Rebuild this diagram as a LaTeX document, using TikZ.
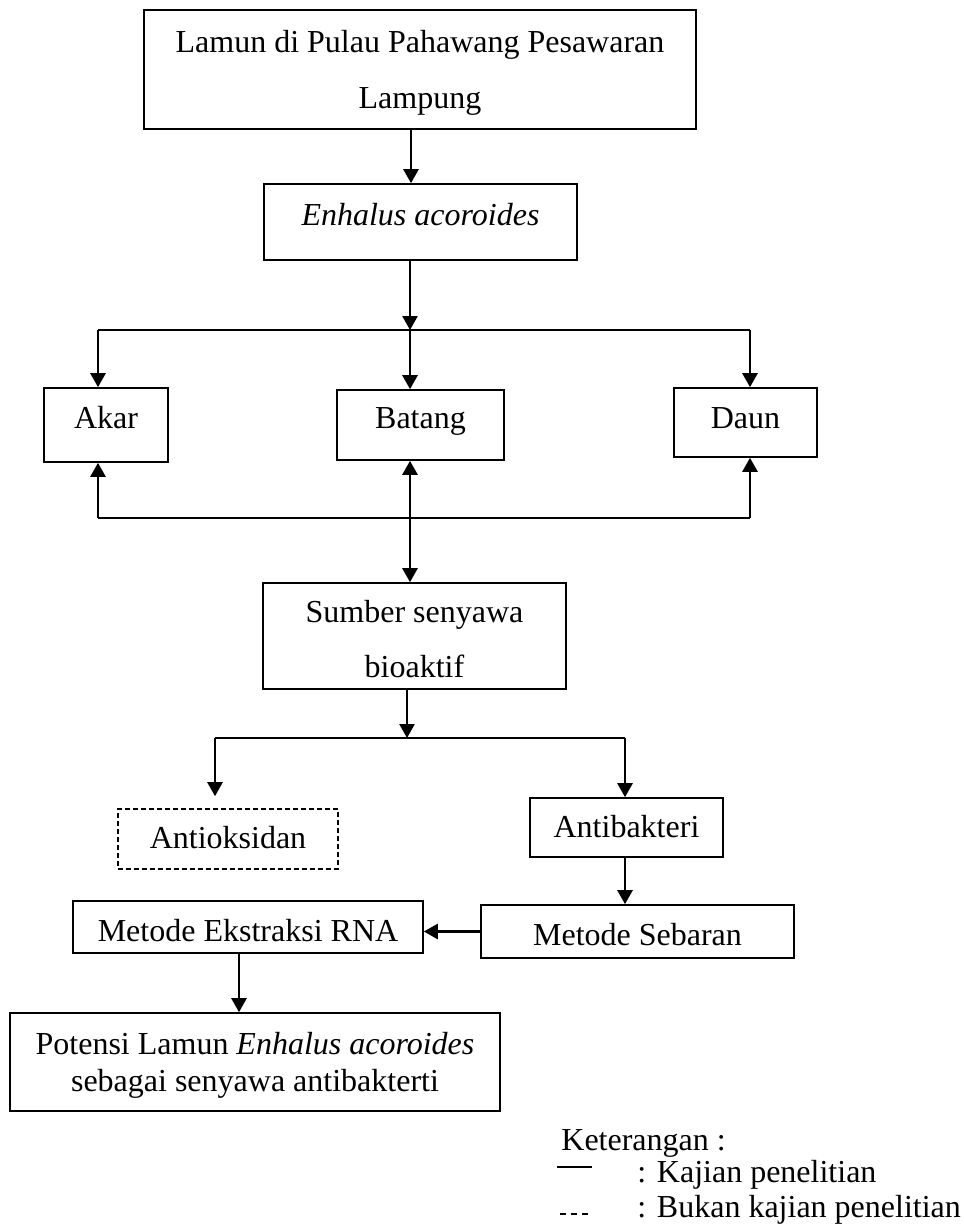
\documentclass[tikz,border=0pt]{standalone}
\usepackage{fontspec}
\setmainfont{Liberation Serif}
\usetikzlibrary{arrows.meta,calc}
\begin{document}
\begin{tikzpicture}[x=0.5pt,y=-0.5pt,
  every node/.style={font=\fontsize{16}{18.5}\selectfont},
  bx/.style={draw,line width=0.8pt,inner sep=0pt},
  bxd/.style={bx,dash pattern=on 2.5pt off 1.5pt},
  arr/.style={line width=1.3pt,-{Triangle[length=7pt,width=7.5pt]}},
  ln/.style={line width=1.3pt},
  lg/.style={anchor=base west,inner sep=0pt},
]
\useasboundingbox (0,0) rectangle (964,1227);

% boxes
\node[bx,align=center,minimum width=276pt,minimum height=59.5pt] (top) at (420,69.5)
  {\rule{0pt}{14pt}Lamun di Pulau Pahawang Pesawaran\\[9.5pt]Lampung};
\node[bx,minimum width=156.5pt,minimum height=38pt,text height=11pt,text depth=8pt] (enh) at (420.5,222)
  {\textit{Enhalus acoroides}};
\node[bx,minimum width=62pt,minimum height=37pt,text height=11pt,text depth=8pt] (akar) at (106,425) {Akar};
\node[bx,minimum width=83.5pt,minimum height=35pt,text height=11pt,text depth=8pt] (batang) at (420.5,425) {Batang};
\node[bx,minimum width=71.5pt,minimum height=34.5pt,text height=11pt,text depth=5.5pt] (daun) at (745.5,422.5) {Daun};
\node[bx,align=center,minimum width=151.5pt,minimum height=53pt] (sum) at (414.5,636)
  {\rule{0pt}{14.5pt}Sumber senyawa\\[9pt]bioaktif};
\node[bxd,minimum width=110pt,minimum height=30pt,text height=11pt,text depth=2pt] (antiok) at (228,839) {Antioksidan};
\node[bx,minimum width=96.5pt,minimum height=29.5pt,text height=11pt,text depth=1.5pt] (antib) at (626.5,827.5) {Antibakteri};
\node[bx,minimum width=156.5pt,minimum height=26.5pt,text height=14pt,text depth=0.5pt] (seb) at (637.5,931.5) {Metode Sebaran};
\node[bx,minimum width=175pt,minimum height=26pt,text height=14.5pt,text depth=0.5pt] (ekstr) at (248,927) {Metode Ekstraksi RNA};
\node[bx,align=center,minimum width=245pt,minimum height=49pt] (pot) at (255,1062)
  {\rule{0pt}{14pt}Potensi Lamun \textit{Enhalus acoroides}\\sebagai senyawa antibakterti};

% junction points
\coordinate (t1) at ([xshift=-4.5pt]top.south);
\coordinate (e1) at ([xshift=-5.25pt]enh.south);
\coordinate (brL) at (98,330);
\coordinate (brM) at (410,330);
\coordinate (brR) at (750,330);
\coordinate (bbL) at (98,518);
\coordinate (bbM) at (410,518);
\coordinate (bbR) at (750,518);
\coordinate (s1) at ([xshift=-3.75pt]sum.south);
\coordinate (sp) at (407,738);
\coordinate (spL) at (215,738);
\coordinate (spR) at (625,738);
\coordinate (k1) at ([xshift=-4.5pt]ekstr.south);

% connectors
\draw[arr] (t1) -- (t1 |- enh.north);
\draw[arr] (e1) -- (brM);
\draw[ln] (brL) -- (brR);
\draw[arr] (brL) -- (brL |- akar.north);
\draw[arr] (brM) -- (brM |- batang.north);
\draw[arr] (brR) -- (brR |- daun.north);
\draw[ln] (bbL) -- (bbR);
\draw[arr] (bbL) -- (bbL |- akar.south);
\draw[arr] (bbM) -- (bbM |- batang.south);
\draw[arr] (bbR) -- (bbR |- daun.south);
\draw[arr] (bbM) -- (bbM |- sum.north);
\draw[arr] (s1) -- (sp);
\draw[ln] (spL) -- (spR);
\draw[arr] (spL) -- ($(spL |- antiok.north)+(0,-12)$);
\draw[arr] (spR) -- (spR |- antib.north);
\draw[arr] (spR |- antib.south) -- (spR |- seb.north);
\draw[arr] (seb.west) -- (seb.west -| ekstr.east);
\draw[arr] (k1) -- (k1 |- pot.north);

% legend
\node[lg] (ket) at (561,1150) {Keterangan :};
\coordinate (l1a) at (557,1167);
\coordinate (l1b) at (592,1167);
\draw[ln] (l1a) -- (l1b);
\node[lg] (kaj) at (637,1182) {: Kajian penelitian};
\coordinate (l2a) at (560,1214);
\coordinate (l2b) at (588,1214);
\draw[line width=1pt,dash pattern=on 3pt off 2.5pt] (l2a) -- (l2b);
\node[lg] (buk) at (637,1217) {: Bukan kajian penelitian};
\end{tikzpicture}
\end{document}
